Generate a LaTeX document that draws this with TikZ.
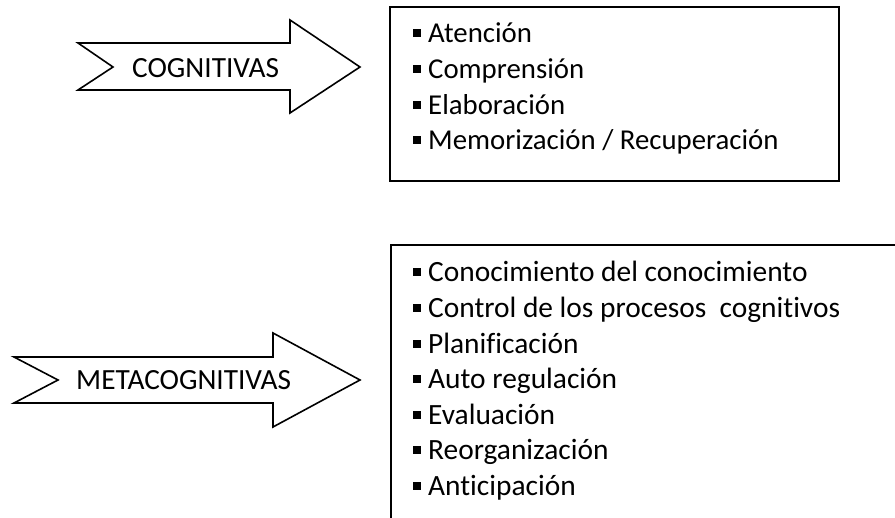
\documentclass[tikz,border=0pt]{standalone}
\usepackage{fontspec}
\setmainfont{Carlito}[Ligatures={NoCommon}]
\begin{document}
\begin{tikzpicture}[x=1pt,y=-1pt,
  shapeline/.style={draw=black,line width=1.6pt,line join=miter},
  boxframe/.style={draw=black,line width=1.6pt,rectangle,inner sep=0pt,anchor=north west},
  label/.style={anchor=base west,inner sep=0pt,font=\fontsize{29.3}{34}\selectfont},
  item/.style={anchor=base west,inner sep=0pt,font=\fontsize{28.8}{34}\selectfont},
  itemb/.style={anchor=base west,inner sep=0pt,font=\fontsize{29.4}{34}\selectfont}]
\useasboundingbox (0,0) rectangle (895,518);
\clip (0,0) rectangle (895,518);
\newcommand{\bul}{\rule[5.6pt]{8pt}{8pt}\hspace{7pt}}
% top arrow
\draw[shapeline] (78,43) -- (290,43) -- (290,20) -- (360,67) -- (290,113) -- (290,90) -- (78,90) -- (113,67) -- cycle;
\node[label] (cog) at (132,78) {COGNITIVAS};
% bottom arrow
\draw[shapeline] (14,357) -- (273,357) -- (273,333) -- (360,380) -- (273,427) -- (273,403) -- (14,403) -- (58,380) -- cycle;
\node[label] (meta) at (76,390) {METACOGNITIVAS};
% top box
\node[boxframe,minimum width=449pt,minimum height=174pt] (boxA) at (389,6) {};
\node[item] (a1) at (413,43) {\bul Atención};
\node[item] (a2) at (413,78.6) {\bul Comprensión};
\node[item] (a3) at (413,114.2) {\bul Elaboración};
\node[item] (a4) at (413,149.8) {\bul Memorización / Recuperación};
% bottom box (extends past the page edges)
\node[boxframe,minimum width=560pt,minimum height=320pt] (boxB) at (390,244) {};
\node[itemb] (b1) at (413,282) {\bul Conocimiento del conocimiento};
\node[itemb] (b2) at (413,317.6) {\bul Control de los procesos\ \ cognitivos};
\node[itemb] (b3) at (413,353.2) {\bul Planificación};
\node[itemb] (b4) at (413,388.8) {\bul Auto regulación};
\node[itemb] (b5) at (413,424.4) {\bul Evaluación};
\node[itemb] (b6) at (413,460) {\bul Reorganización};
\node[itemb] (b7) at (413,495.6) {\bul Anticipación};
\end{tikzpicture}
\end{document}
